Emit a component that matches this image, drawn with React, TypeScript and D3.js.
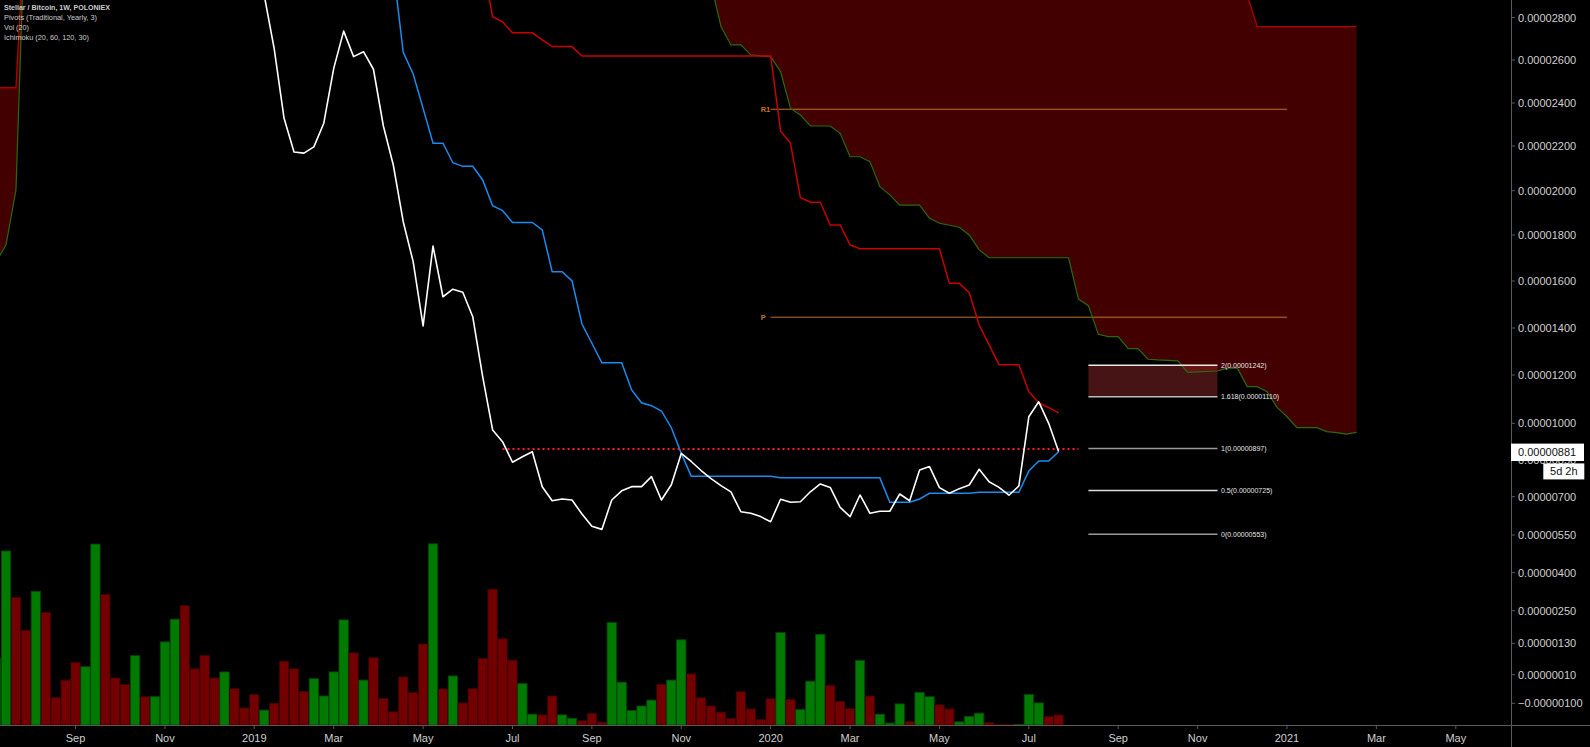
import React from "react";
import * as d3 from "d3";

// Weekly bars, index 0 = week of 2018-07-02. Prices in satoshis (1e-8 BTC).
const WEEK_START = Date.UTC(2018, 6, 2);
const WEEK_MS = 7 * 24 * 3600 * 1000;

const closeSats = [
  3750, 3620, 3480, 3390, 3310, 3180, 3360, 3290, 3150, 3320,
  3480, 3610, 3540, 3780, 3890, 3960, 3820, 4010, 4150, 4380,
  4260, 4090, 3840, 3420, 3270, 3350, 3120, 2905, 2655, 2329,
  2173, 2168, 2196, 2306, 2561, 2736, 2616, 2639, 2557, 2293,
  2115, 1860, 1684, 1409, 1752, 1533, 1565, 1552, 1448, 1193,
  973, 925, 841, 863, 884, 741, 684, 691, 687, 632,
  584, 572, 687, 724, 741, 741, 782, 687, 749, 877,
  844, 807, 774, 745, 720, 641, 635, 622, 602, 690,
  678, 680, 720, 752, 738, 658, 622, 707, 635, 643,
  643, 711, 684, 809, 823, 737, 714, 733, 748, 812,
  761, 738, 706, 744, 1027, 1089, 1000, 885,
];

const conversionLine = [
  3900, 3900, 3850, 3850, 3780, 3780, 3780, 3720, 3720, 3720,
  3720, 3720, 3720, 3780, 3840, 3840, 3840, 3840, 3910, 3910,
  3870, 3760, 3760, 3710, 3690, 3690, 3620, 3540, 3410, 3410,
  3360, 3360, 3360, 3360, 3290, 3290, 3210, 3180, 3180, 3150,
  3030, 2636, 2535, 2375, 2213, 2213, 2125, 2109, 2109, 2048,
  1932, 1910, 1857, 1857, 1857, 1823, 1640, 1640, 1600, 1417,
  1335, 1252, 1252, 1252, 1138, 1085, 1073, 1051, 982, 877,
  784, 784, 784, 784, 784, 784, 784, 784, 784, 777,
  777, 777, 777, 777, 777, 777, 777, 777, 777, 777,
  678, 678, 678, 691, 714, 714, 714, 714, 714, 718,
  718, 718, 718, 718, 805, 846, 846, 884,
];

const baseLine = [
  4150, 4150, 4150, 4150, 4150, 4150, 4150, 4150, 4150, 4150,
  4150, 4150, 4150, 4150, 4150, 4150, 4150, 4150, 4380, 4380,
  4380, 4380, 4380, 4380, 4380, 4380, 4380, 4380, 4380, 4380,
  4380, 4380, 4380, 4380, 4380, 4380, 4380, 4380, 4200, 3900,
  3600, 3350, 3200, 3139, 3129, 3129, 3123, 3129, 3123, 3050,
  2804, 2780, 2728, 2728, 2728, 2695, 2663, 2663, 2663, 2619,
  2619, 2619, 2619, 2619, 2619, 2619, 2619, 2619, 2619, 2619,
  2619, 2619, 2619, 2619, 2619, 2619, 2619, 2619, 2619, 2270,
  2213, 1968, 1948, 1948, 1845, 1845, 1757, 1740, 1740, 1740,
  1740, 1740, 1740, 1740, 1740, 1740, 1590, 1590, 1550, 1413,
  1328, 1244, 1244, 1244, 1131, 1085, 1065, 1043,
];

// Leading spans, already displaced 30 weeks forward (index 0..137)
const leadA = [
  1683, 1757, 2003, 3390, 3620, 3710, 3780, 3850, 3850, 3920,
  4010, 4100, 4180, 4180, 4230, 4150, 4090, 4020, 3960, 3960,
  3880, 3810, 3810, 3760, 3700, 3650, 3650, 3620, 3600, 3580,
  3560, 3560, 3540, 3520, 3500, 3500, 3480, 3460, 3450, 3430,
  3410, 3400, 3390, 3370, 3350, 3340, 3320, 3300, 3290, 3270,
  3250, 3230, 3210, 3190, 3170, 3150, 3130, 3110, 3100, 3090,
  3080, 3070, 3060, 3050, 3040, 3030, 3020, 3010, 3000, 2990,
  2980, 2970, 2956, 2757, 2671, 2671, 2624, 2619, 2616, 2546,
  2375, 2344, 2293, 2293, 2293, 2259, 2152, 2152, 2130, 2018,
  1981, 1935, 1935, 1935, 1875, 1853, 1844, 1835, 1800, 1735,
  1701, 1701, 1701, 1701, 1701, 1701, 1701, 1701, 1701, 1523,
  1495, 1373, 1363, 1363, 1312, 1312, 1267, 1264, 1262, 1260,
  1211, 1213, 1215, 1217, 1229, 1229, 1152, 1152, 1131, 1066,
  1027, 982, 982, 982, 966, 962, 956, 963,
];

const leadB = [
  2471, 2471, 2471, 3340, 3560, 3560, 3560, 3560, 3560, 3560,
  3560, 3560, 3560, 3560, 3560, 3560, 3560, 3560, 3560, 3560,
  3560, 3720, 3720, 3720, 3720, 3720, 3720, 3720, 3720, 3720,
  3720, 3720, 3720, 3720, 3720, 3720, 3720, 3720, 3720, 3720,
  3720, 3720, 3720, 3720, 3720, 3720, 3610, 3610, 3610, 3610,
  3610, 3610, 3610, 3610, 3610, 3610, 3610, 3610, 3610, 3610,
  3610, 3610, 3610, 3610, 3610, 3610, 3480, 3480, 3480, 3480,
  3480, 3480, 3480, 3480, 3480, 3480, 3480, 3480, 3480, 3480,
  3480, 3480, 3480, 3480, 3480, 3480, 3320, 3320, 3320, 3320,
  3320, 3320, 3320, 3320, 3320, 3320, 3320, 3320, 3320, 3320,
  3320, 3320, 3320, 3320, 3320, 3320, 3180, 3180, 3180, 3180,
  3180, 3180, 3180, 3180, 3180, 3180, 3180, 3180, 3050, 3050,
  3050, 3050, 3050, 3050, 3050, 3050, 2905, 2757, 2757, 2757,
  2757, 2757, 2757, 2757, 2757, 2757, 2757, 2757,
];

const volume = [
  66.6, 174, 127.5, 94.5, 133.7, 112.4, 27.3, 44.9, 62.4, 58.3,
  180.9, 130.6, 47, 40.7, 69.3, 28.3, 28.3, 83.1, 105.8, 119.3,
  56.2, 69.7, 47, 53.1, 36.3, 17, 30.4, 14.9, 21.8, 63.8,
  56.2, 33.5, 46.3, 29, 53.1, 105.1, 72.1, 44.9, 67.3, 26.6,
  13.2, 48, 32.5, 81, 181.2, 36, 49, 22.1, 36.6, 66.6,
  135.8, 86.2, 64.8, 41.4, 10.8, 10.1, 29, 10.1, 6.7, 4.2,
  11.5, 2.9, 102.4, 42.8, 14.6, 19, 24.9, 40.7, 44.9, 85.2,
  51.1, 27.3, 19, 12.9, 6.7, 33.2, 16, 5.6, 26.3, 92.4,
  25.6, 15.3, 43.8, 90.7, 39.7, 23.5, 16.3, 64.5, 29, 10.8,
  1.9, 21.1, 3.6, 32.5, 28.3, 20.1, 16, 3.2, 8.7, 11.8,
  2.5, 0.5, 0.5, 0.5, 30.4, 22.1, 8.7, 10,
];

// 1 = up week (green), 0 = down week (red)
const volumeUp = [
  1, 1, 0, 0, 1, 0, 0, 0, 0, 1,
  1, 0, 0, 0, 1, 0, 1, 1, 1, 0,
  0, 0, 0, 1, 0, 0, 0, 1, 0, 0,
  0, 0, 1, 1, 1, 1, 0, 1, 0, 0,
  0, 0, 0, 0, 1, 0, 1, 0, 0, 0,
  0, 0, 0, 1, 1, 0, 0, 1, 1, 0,
  0, 0, 1, 1, 1, 1, 1, 0, 1, 1,
  0, 0, 0, 0, 0, 0, 0, 0, 0, 1,
  0, 1, 1, 1, 0, 0, 0, 1, 0, 1,
  1, 1, 0, 1, 1, 0, 0, 1, 1, 1,
  0, 0, 0, 1, 1, 1, 0, 0,
];

const priceTicks = [2800, 2600, 2400, 2200, 2000, 1800, 1600, 1400, 1200, 1000, 850, 700, 550, 400, 250, 130, 10, -100];

const fibLevels = [
  { ratio: "2", value: 1242 },
  { ratio: "1.618", value: 1110 },
  { ratio: "1", value: 897 },
  { ratio: "0.5", value: 725 },
  { ratio: "0", value: 553 },
];
const fibFrom = 110;
const fibTo = 123;

const pivots = [
  { name: "R1", value: 2371 },
  { name: "P", value: 1446 },
];
const pivotFrom = 78;
const pivotTo = 130;

const hLineValue = 895;
const hLineFrom = 51;
const hLineTo = 109;

const lastPrice = 881;
const countdown = "5d 2h";

const legendLines = [
  "Stellar / Bitcoin, 1W, POLONIEX",
  "Pivots (Traditional, Yearly, 3)",
  "Vol (20)",
  "Ichimoku (20, 60, 120, 30)",
];

const FONT = "'Liberation Sans', Arial, sans-serif";

export default function App() {
  const W = 1590;
  const H = 747;
  const plotRight = 1511;
  const plotBottom = 725;
  const step = 9.93;

  const x = d3.scaleLinear().domain([0, 137]).range([-3.9, -3.9 + 137 * step]);
  // price axis calibration (slightly non-linear TradingView scale)
  const y = d3
    .scaleLinear()
    .domain([2800, 2600, 2400, 2200, 2000, 1800, 1600, 1400, 1200, 1000, 700, 550, 400, 250, 130, 10, -100])
    .range([17.5, 60, 103, 146, 190.7, 235, 281, 328, 375, 423.3, 496.7, 535, 572.7, 610.7, 643.3, 674.7, 703.3]);
  const vy = d3.scaleLinear().domain([0, 200]).range([plotBottom, plotBottom - 200]);

  const mkLine = (arr: number[], offset = 0) =>
    d3
      .line<number>()
      .x((_, i) => x(i + offset))
      .y((d) => y(d))(arr) || "";

  const cloudPath =
    d3
      .area<number>()
      .x((_, i) => x(i))
      .y0((_, i) => y(leadA[i]))
      .y1((_, i) => y(leadB[i]))(leadA) || "";

  const fmt = (v: number) => {
    const s = (v * 1e-8).toFixed(8);
    return s.startsWith("-") ? "\u2212" + s.slice(1) : s;
  };

  const months = d3.utcMonth
    .every(2)!
    .range(new Date(Date.UTC(2018, 8, 1)), new Date(Date.UTC(2021, 5, 2)));
  const monthTicks = months.map((d) => {
    const idx = Math.floor((+d - WEEK_START) / WEEK_MS);
    const label = d.getUTCMonth() === 0 ? String(d.getUTCFullYear()) : d3.utcFormat("%b")(d);
    return { x: x(idx), label };
  });

  const fibColor: Record<string, string> = {
    "2": "#e8e8e8",
    "1.618": "#bdbdbd",
    "1": "#9a9a9a",
    "0.5": "#e0e0e0",
    "0": "#9a9a9a",
  };

  const axisColor = "#5a5a5a";
  const textColor = "#cfcfcf";

  return (
    <svg
      width={W}
      height={H}
      style={{ position: "fixed", left: 0, top: 0, display: "block", background: "#000" }}
      fontFamily={FONT}
    >
      <defs>
        <clipPath id="plotClip">
          <rect x={0} y={0} width={plotRight} height={plotBottom} />
        </clipPath>
      </defs>
      <rect x={0} y={0} width={W} height={H} fill="#000" />

      <g clipPath="url(#plotClip)">
        {/* Ichimoku cloud */}
        <path d={cloudPath} fill="#420000" />

        {/* Volume */}
        {volume.map((v, i) => (
          <rect
            key={"v" + i}
            x={x(i) - step / 2 + 0.3}
            y={vy(v)}
            width={step - 0.6}
            height={Math.max(0, plotBottom - vy(v))}
            fill={volumeUp[i] ? "#007a00" : "#730000"}
            stroke={volumeUp[i] ? "#004a00" : "#400000"}
            strokeWidth={0.8}
          />
        ))}

        {/* Pivots */}
        {pivots.map((p) => (
          <g key={p.name}>
            <line
              x1={x(pivotFrom)}
              x2={x(pivotTo)}
              y1={y(p.value)}
              y2={y(p.value)}
              stroke="#c0702c"
              strokeWidth={1}
            />
            <text x={x(pivotFrom) - 10} y={y(p.value) + 2.6} fontSize={7.5} fontWeight="bold" fill="#c8742a">
              {p.name}
            </text>
          </g>
        ))}

        {/* Fib box */}
        <rect
          x={x(fibFrom)}
          y={y(fibLevels[0].value)}
          width={x(fibTo) - x(fibFrom)}
          height={y(fibLevels[1].value) - y(fibLevels[0].value)}
          fill="rgba(140,40,40,0.5)"
        />

        {/* Leading spans */}
        <path d={mkLine(leadB)} fill="none" stroke="#b00000" strokeWidth={1.3} />
        <path d={mkLine(leadA)} fill="none" stroke="#2b6a0c" strokeWidth={1.2} />

        {/* Base & conversion lines */}
        <path d={mkLine(baseLine)} fill="none" stroke="#c80000" strokeWidth={1.5} />
        <path d={mkLine(conversionLine)} fill="none" stroke="#1a8cf0" strokeWidth={1.5} />

        {/* Horizontal dotted line */}
        <line
          x1={x(hLineFrom)}
          x2={x(hLineTo)}
          y1={y(hLineValue)}
          y2={y(hLineValue)}
          stroke="#ff1e1e"
          strokeWidth={2}
          strokeDasharray="2 3"
        />

        {/* Price */}
        <path d={mkLine(closeSats)} fill="none" stroke="#ffffff" strokeWidth={1.6} strokeLinejoin="round" />

        {/* Fib lines */}
        {fibLevels.map((f) => (
          <g key={f.ratio}>
            <line
              x1={x(fibFrom)}
              x2={x(fibTo)}
              y1={y(f.value)}
              y2={y(f.value)}
              stroke={fibColor[f.ratio]}
              strokeWidth={1.5}
            />
            <text x={x(fibTo) + 3.5} y={y(f.value) + 2.5} fontSize={7} fill="#e6e6e6">
              {`${f.ratio}(${fmt(f.value)})`}
            </text>
          </g>
        ))}
      </g>

      {/* Axes */}
      <line x1={plotRight + 0.5} x2={plotRight + 0.5} y1={0} y2={H} stroke={axisColor} strokeWidth={1} />
      <line x1={0} x2={W} y1={plotBottom + 0.5} y2={plotBottom + 0.5} stroke={axisColor} strokeWidth={1} />

      {priceTicks.map((v) => (
        <g key={"t" + v}>
          <line x1={plotRight} x2={plotRight + 4} y1={y(v)} y2={y(v)} stroke={axisColor} />
          <text x={plotRight + 7} y={y(v) + 4} fontSize={11} fill={textColor}>
            {fmt(v)}
          </text>
        </g>
      ))}

      {monthTicks.map((m, i) => (
        <g key={"m" + i}>
          <line x1={m.x} x2={m.x} y1={plotBottom} y2={plotBottom + 4} stroke={axisColor} />
          <text x={m.x} y={741.5} fontSize={11} fill={textColor} textAnchor="middle">
            {m.label}
          </text>
        </g>
      ))}

      {/* Last price tag */}
      <rect x={plotRight} y={y(lastPrice) - 8.8} width={73} height={17.4} fill="#ffffff" />
      <text x={plotRight + 7} y={y(lastPrice) + 4} fontSize={11} fill="#111">
        {fmt(lastPrice)}
      </text>
      <rect x={1543.3} y={y(lastPrice) + 11} width={41} height={16} fill="#ffffff" />
      <text x={1563.8} y={y(lastPrice) + 23} fontSize={11} fill="#111" textAnchor="middle">
        {countdown}
      </text>

      {/* Legend */}
      {legendLines.map((t, i) => (
        <text
          key={"l" + i}
          x={4}
          y={10 + i * 10}
          fontSize={8}
          fontWeight={i === 0 ? "bold" : "normal"}
          fill="#cccccc"
          textLength={[106, 93, 25, 85][i]}
          lengthAdjust="spacingAndGlyphs"
        >
          {t}
        </text>
      ))}
    </svg>
  );
}
